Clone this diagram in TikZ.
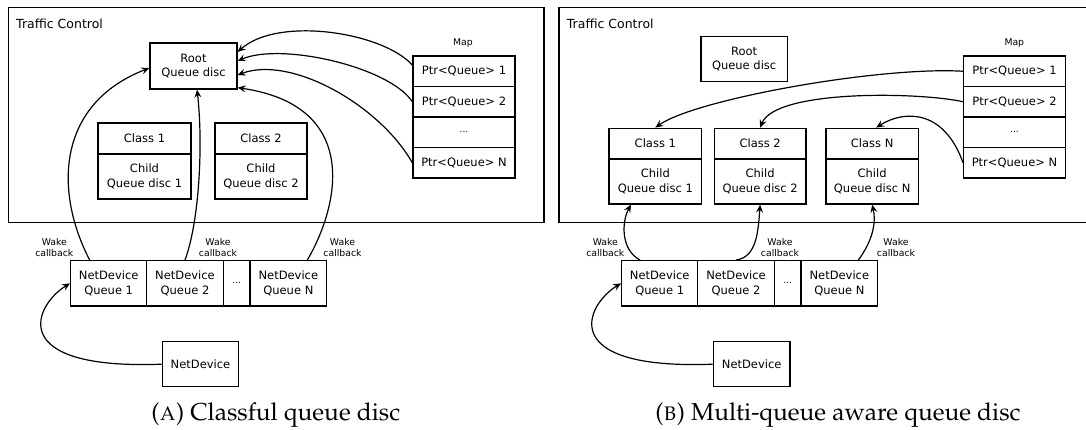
\documentclass[tikz,border=0pt]{standalone}
\usepackage[T1,TU]{fontenc}
\usepackage{fontspec}
\setsansfont{DejaVu Sans}
\usetikzlibrary{arrows.meta,calc}
\newcommand\capfont{\fontencoding{T1}\fontfamily{ppl}\fontsize{24.5}{28}\selectfont}
\tikzset{
 box/.style={draw, line width=1.35pt, inner sep=0pt, align=center, font=\sffamily\fontsize{11.5}{14.5}\selectfont},
 frm/.style={draw, line width=1.35pt, inner sep=0pt},
 lbl/.style={inner sep=0pt, align=center, font=\sffamily\fontsize{9.3}{11}\selectfont},
 ttl/.style={inner sep=0pt, anchor=base west, font=\sffamily\fontsize{12.5}{15}\selectfont},
 arr/.style={-{Stealth[length=8pt,width=7pt,inset=3pt]}, line width=1.2pt},
 captext/.style={inner sep=0pt, anchor=base, font=\capfont},
}
\begin{document}
\begin{tikzpicture}[x=1pt,y=-1pt]
\path[use as bounding box] (0,0) rectangle (1086,430);
\clip (0,0) rectangle (1086,430);
% ---------------- Panel A ----------------
\node[frm, minimum width=535.7pt, minimum height=215pt] (tcA) at (276.15,114.8) {};
\node[ttl] (tctA) at (16,28.5) {Traffic Control};
\node[box, minimum width=87pt, minimum height=46pt] (rootA) at (193.5,66) {Root\\Queue disc};
\node[box, minimum width=93pt, minimum height=31pt] (c1hA) at (144.5,138.5) {Class 1};
\node[box, minimum width=93pt, minimum height=45pt] (c1cA) at (144.5,176.5) {Child\\Queue disc 1};
\node[box, minimum width=92pt, minimum height=31pt] (c2hA) at (261,138.5) {Class 2};
\node[box, minimum width=92pt, minimum height=45pt] (c2cA) at (261,176.5) {Child\\Queue disc 2};
\node[lbl] (mapA) at (463,43.3) {Map};
\node[box, minimum width=102pt, minimum height=30.5pt] (ptr1A) at (464,71.25) {Ptr<Queue> 1};
\node[box, minimum width=102pt, minimum height=30.5pt] (ptr2A) at (464,101.75) {Ptr<Queue> 2};
\node[box, minimum width=102pt, minimum height=30.5pt, font=\sffamily\fontsize{9}{11}\selectfont] (ptrdA) at (464,132.25) {...};
\node[box, minimum width=102pt, minimum height=30.5pt] (ptrNA) at (464,162.75) {Ptr<Queue> N};
\node[box, minimum width=76pt, minimum height=45.3pt] (q1A) at (108.7,283.35) {NetDevice\\Queue 1};
\node[box, minimum width=76.6pt, minimum height=45.3pt] (q2A) at (185,283.35) {NetDevice\\Queue 2};
\node[box, minimum width=26.7pt, minimum height=45.3pt, font=\sffamily\fontsize{9}{11}\selectfont] (qdA) at (236.65,283.35) {...};
\node[box, minimum width=76.7pt, minimum height=45.3pt] (qNA) at (288.35,283.35) {NetDevice\\Queue N};
\node[box, minimum width=76.4pt, minimum height=45pt] (ndA) at (200.5,364.2) {NetDevice};
\node[lbl] (w1A) at (54.3,247.2) {Wake\\callback};
\node[lbl] (w2A) at (218,247.2) {Wake\\callback};
\node[lbl] (wNA) at (342.5,247.2) {Wake\\callback};
\node[captext] (capA) at (275.8,420.5) {(\textsc{a}) Classful queue disc};
\draw[arr] ([yshift=6.25pt]ptr1A.west) .. controls +(-30,-33) and +(40,-36) .. ([yshift=14pt]rootA.east);
\draw[arr] (ptr2A.west) .. controls +(-23,-35) and +(43,-19) .. ([yshift=5pt]rootA.east);
\draw[arr] (ptrNA.west) .. controls +(-33,-58) and +(53,-20) .. ([yshift=-9pt]rootA.east);
\draw[arr] ([xshift=19pt]qNA.north) .. controls +(32.5,-55.7) and +(123,18) .. ([yshift=2pt]rootA.south east);
\draw[arr] ([xshift=-19pt]q1A.north) .. controls +(-34.3,-65.7) and +(-95,37) .. ([yshift=-2pt]rootA.west);
\draw[arr] (q2A.north) .. controls +(15,-40.7) and +(6,51) .. ([xshift=3.5pt]rootA.south);
\draw[arr] (ndA.west) .. controls +(-157.3,5.8) and +(-35.7,21.7) .. (q1A.west);
% ---------------- Panel B ----------------
\node[frm, minimum width=536pt, minimum height=215pt] (tcB) at (827,114.8) {};
\node[ttl] (tctB) at (566.7,28.5) {Traffic Control};
\node[box, minimum width=86.3pt, minimum height=45pt] (rootB) at (744.15,59.2) {Root\\Queue disc};
\node[box, minimum width=92.7pt, minimum height=30.7pt] (c1hB) at (655.35,143.65) {Class 1};
\node[box, minimum width=92.7pt, minimum height=45pt] (c1cB) at (655.35,181.5) {Child\\Queue disc 1};
\node[box, minimum width=91.7pt, minimum height=30.7pt] (c2hB) at (760.15,143.65) {Class 2};
\node[box, minimum width=91.7pt, minimum height=45pt] (c2cB) at (760.15,181.5) {Child\\Queue disc 2};
\node[box, minimum width=92.3pt, minimum height=30.7pt] (cNhB) at (872.15,143.65) {Class N};
\node[box, minimum width=92.3pt, minimum height=45pt] (cNcB) at (872.15,181.5) {Child\\Queue disc N};
\node[lbl] (mapB) at (1014.3,43.3) {Map};
\node[box, minimum width=101.6pt, minimum height=30.5pt] (ptr1B) at (1014.5,71.25) {Ptr<Queue> 1};
\node[box, minimum width=101.6pt, minimum height=30.5pt] (ptr2B) at (1014.5,101.75) {Ptr<Queue> 2};
\node[box, minimum width=101.6pt, minimum height=30.5pt, font=\sffamily\fontsize{9}{11}\selectfont] (ptrdB) at (1014.5,132.25) {...};
\node[box, minimum width=101.6pt, minimum height=30.5pt] (ptrNB) at (1014.5,162.75) {Ptr<Queue> N};
\node[box, minimum width=76pt, minimum height=45.3pt] (q1B) at (659.7,283.35) {NetDevice\\Queue 1};
\node[box, minimum width=76.6pt, minimum height=45.3pt] (q2B) at (736,283.35) {NetDevice\\Queue 2};
\node[box, minimum width=26.7pt, minimum height=45.3pt, font=\sffamily\fontsize{9}{11}\selectfont] (qdB) at (787.65,283.35) {...};
\node[box, minimum width=76.7pt, minimum height=45.3pt] (qNB) at (839.35,283.35) {NetDevice\\Queue N};
\node[box, minimum width=76.7pt, minimum height=45pt] (ndB) at (751.65,364.2) {NetDevice};
\node[lbl] (w1B) at (605.3,247.2) {Wake\\callback};
\node[lbl] (w2B) at (780,247.2) {Wake\\callback};
\node[lbl] (wNB) at (896,247.2) {Wake\\callback};
\node[captext] (capB) at (838,420.5) {(\textsc{b}) Multi-queue aware queue disc};
\draw[arr] (ptr1B.west) .. controls +(-83.7,-5) and +(39.65,-28.3) .. (c1hB.north);
\draw[arr] (ptr2B.west) .. controls +(-43.7,-9.75) and +(14.85,-38.3) .. (c2hB.north);
\draw[arr] (ptrNB.west) .. controls +(-18.7,-52.75) and +(28.85,-18.3) .. ([xshift=4pt]cNhB.north);
\draw[arr] ([xshift=-19.7pt]q1B.north) .. controls +(-20,-10.7) and +(-9,16) .. ([xshift=-24.35pt]c1cB.south);
\draw[arr] (q2B.north) .. controls +(21,-2.7) and +(-2,26) .. (c2cB.south);
\draw[arr] ([xshift=19pt]qNB.north) .. controls +(11.7,-15.7) and +(4.85,21) .. (cNcB.south);
\draw[arr] (ndB.west) .. controls +(-157.3,5.8) and +(-35.7,21.7) .. (q1B.west);
\end{tikzpicture}
\end{document}
